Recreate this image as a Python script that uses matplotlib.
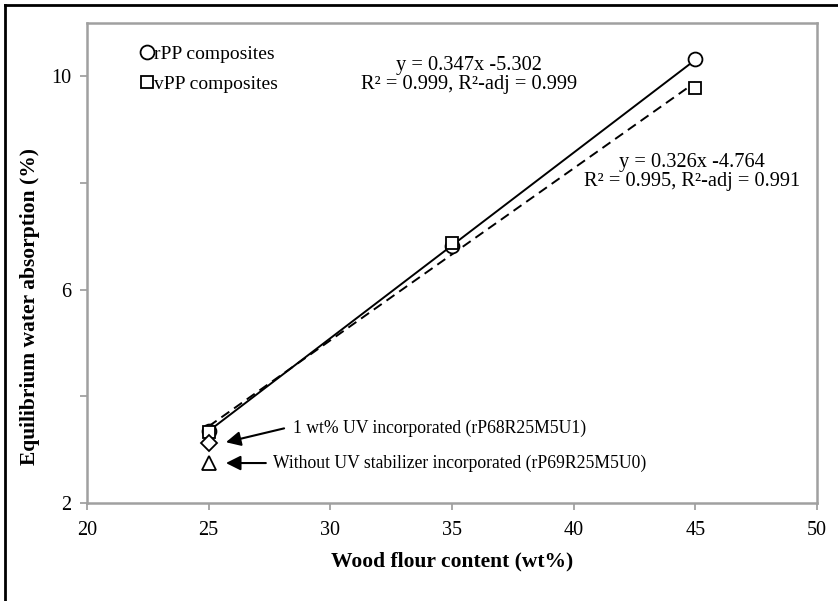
import matplotlib
matplotlib.use("Agg")
import matplotlib.pyplot as plt
from matplotlib.lines import Line2D
import numpy as np

plt.rcParams['font.family'] = ['Liberation Serif', 'DejaVu Serif']

# data
wood = [25, 35, 45]
rpp = [3.36, 6.81, 10.32]
vpp = [3.33, 6.88, 9.78]
uv1_x, uv1_y = 25, 3.12      # 1 wt% UV (diamond)
uv0_x, uv0_y = 25, 2.76      # no UV stabilizer (triangle)

xticks = [20, 25, 30, 35, 40, 45, 50]
yticks = [2, 4, 6, 8, 10]
ytick_labels = ['2', '', '6', '', '10']

eq_r = 'y = 0.347x -5.302\nR² = 0.999, R²-adj = 0.999'
eq_v = 'y = 0.326x -4.764\nR² = 0.995, R²-adj = 0.991'
note_uv1 = '1 wt% UV incorporated (rP68R25M5U1)'
note_uv0 = 'Without UV stabilizer incorporated (rP69R25M5U0)'

fig = plt.figure(figsize=(8.38, 6.01), dpi=100)
ax = fig.add_axes([0.1038, 0.163, 0.8712, 0.7987])

# fitted trend lines
xs = np.array([25, 45])
pr = np.polyfit(wood, rpp, 1)
pv = np.polyfit(wood, vpp, 1)
ax.plot(xs, np.polyval(pr, xs), color='black', lw=1.4, zorder=2)
ax.plot(xs, np.polyval(pv, xs), color='black', lw=1.4, ls=(0, (5, 3)), zorder=2)

ax.plot(wood, rpp, 'o', ms=10, mfc='white', mec='black', mew=1.3, ls='none',
        label='rPP composites', zorder=3)
ax.plot(wood, vpp, 's', ms=9, mfc='white', mec='black', mew=1.3, ls='none',
        label='vPP composites', zorder=3)
ax.plot(uv1_x, uv1_y, 'D', ms=8.5, mfc='white', mec='black', mew=1.3, zorder=3)
ax.plot(uv0_x, uv0_y, '^', ms=10.5, mfc='white', mec='black', mew=1.3, zorder=3)

leg = ax.legend(loc='upper left', bbox_to_anchor=(0.052, 0.99), frameon=False,
                handlelength=0.5, handletextpad=0.1, labelspacing=0.65,
                fontsize=14)

ax.text(35.7, 10.02, eq_r, ha='center', va='center', fontsize=14.7, linespacing=1.0)
ax.text(44.85, 8.2, eq_v, ha='center', va='center', fontsize=14.7, linespacing=1.0)

# notes and arrows
ax.text(28.47, 3.40, note_uv1, ha='left', va='center', fontsize=12.7)
ax.text(27.64, 2.75, note_uv0, ha='left', va='center', fontsize=12.7)
arrow = dict(arrowstyle='-|>', color='black', lw=1.5, mutation_scale=22,
             shrinkA=0, shrinkB=0)
ax.annotate('', xy=(25.71, 3.14), xytext=(28.1, 3.40), arrowprops=arrow)
ax.annotate('', xy=(25.71, 2.75), xytext=(27.35, 2.75), arrowprops=arrow)

ax.set_xlim(20, 50)
ax.set_ylim(2, 11)
ax.set_xticks(xticks)
ax.set_yticks(yticks)
ax.set_yticklabels(ytick_labels)
ax.tick_params(axis='both', direction='out', length=5, width=1.2, color='#999999',
               labelsize=14.5)
ax.tick_params(axis='x', pad=8)
ax.tick_params(axis='y', pad=6)
for s in ax.spines.values():
    s.set_color('#a0a0a0')
    s.set_linewidth(1.8)

ax.set_xlabel('Wood flour content (wt%)', fontsize=15.5, fontweight='bold')
ax.set_ylabel('Equilibrium water absorption (%)', fontsize=15.5, fontweight='bold')
ax.xaxis.set_label_coords(0.5, -0.1)
ax.yaxis.set_label_coords(-0.064, 0.41)

# outer frame (only left and top visible)
fig.add_artist(Line2D([0.006, 0.006], [0, 0.992], transform=fig.transFigure,
                      color='black', lw=2))
fig.add_artist(Line2D([0.006, 1], [0.992, 0.992], transform=fig.transFigure,
                      color='black', lw=2))

fig.savefig('out.png', dpi=100)
